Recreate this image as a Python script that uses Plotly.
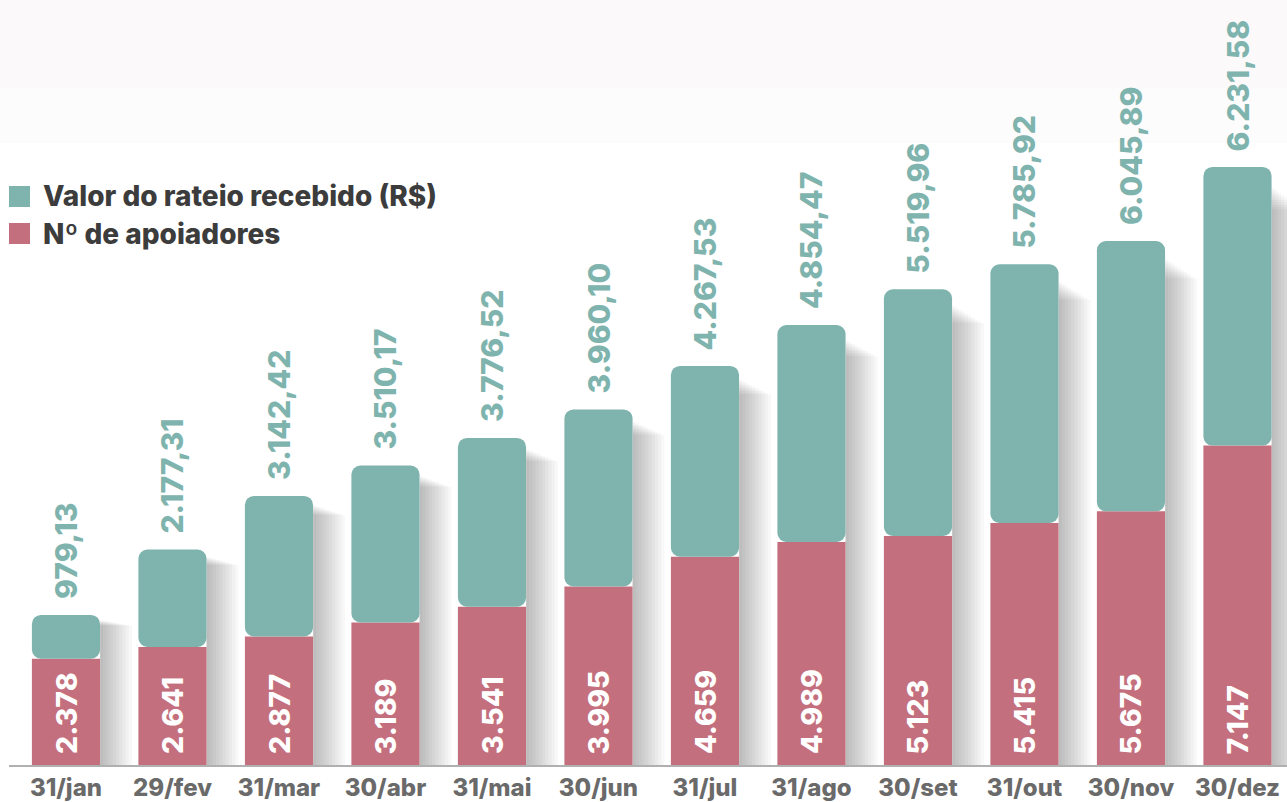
import plotly.graph_objects as go

categories = ["31/jan", "29/fev", "31/mar", "30/abr", "31/mai", "30/jun",
              "31/jul", "31/ago", "30/set", "31/out", "30/nov", "30/dez"]
apoiadores = [2378, 2641, 2877, 3189, 3541, 3995, 4659, 4989, 5123, 5415, 5675, 7147]
rateio = [979.13, 2177.31, 3142.42, 3510.17, 3776.52, 3960.10, 4267.53,
          4854.47, 5519.96, 5785.92, 6045.89, 6231.58]
apoiadores_labels = ["2.378", "2.641", "2.877", "3.189", "3.541", "3.995",
                     "4.659", "4.989", "5.123", "5.415", "5.675", "7.147"]
rateio_labels = ["979,13", "2.177,31", "3.142,42", "3.510,17", "3.776,52", "3.960,10",
                 "4.267,53", "4.854,47", "5.519,96", "5.785,92", "6.045,89", "6.231,58"]
legend_names = ["Valor do rateio recebido (R$)", "Nº de apoiadores"]

TEAL = "#7fb4ae"
PINK = "#c46f7d"
FONT = "Inter"
BAR_W = 0.64

totals = [a + r for a, r in zip(apoiadores, rateio)]

fig = go.Figure()

# soft drop shadow to the right of each bar (layered translucent strips)
strip_widths = [0.03, 0.06, 0.09, 0.12, 0.15, 0.18, 0.21, 0.24, 0.27, 0.30]
for i, w in enumerate(strip_widths):
    factor = 0.965 - 0.004 * i
    fig.add_trace(go.Bar(
        x=categories, y=[t * factor for t in totals], base=[0] * len(categories),
        width=w, offset=BAR_W / 2,
        marker=dict(color="rgba(0,0,0,0.026)", line=dict(width=0)),
        hoverinfo="skip", showlegend=False,
    ))

fig.add_trace(go.Bar(
    x=categories, y=apoiadores, base=[0] * len(categories), name=legend_names[1],
    width=BAR_W, marker=dict(color=PINK, line=dict(width=0), cornerradius=0),
    showlegend=False,
))
fig.add_trace(go.Bar(
    x=categories, y=rateio, base=apoiadores, name=legend_names[0],
    width=BAR_W, marker=dict(color=TEAL, line=dict(width=0), cornerradius=9),
    showlegend=False,
))

# value labels
for c, t, lab in zip(categories, totals, rateio_labels):
    fig.add_annotation(x=c, y=t, text=lab, textangle=-90, showarrow=False,
                       xanchor="center", yanchor="bottom", yshift=14,
                       font=dict(family=FONT, size=30, color=TEAL, weight=800))
for c, lab in zip(categories, apoiadores_labels):
    fig.add_annotation(x=c, y=0, text=lab, textangle=-90, showarrow=False,
                       xanchor="center", yanchor="bottom", yshift=9,
                       font=dict(family=FONT, size=28.5, color="white", weight=800))

# legend (drawn)
for k, (name, col) in enumerate(zip(legend_names, [TEAL, PINK])):
    y0 = 186 + k * 37
    fig.add_shape(type="rect", xref="paper", yref="paper",
                  x0=0, x1=21 / 1278, y0=1 - (y0 + 21) / 765, y1=1 - y0 / 765,
                  fillcolor=col, line=dict(width=0), layer="above")
    fig.add_annotation(xref="paper", yref="paper", x=32 / 1278, y=1 - (y0 + 10.5) / 765,
                       text=name, showarrow=False, xanchor="left", yanchor="middle",
                       font=dict(family=FONT, size=28, color="#3c3c3c", weight=800))

# faint top background band
for y_top, y_bot, col in [(-10, 88, "#fbf9fa"), (88, 143, "#fdfcfd")]:
    fig.add_shape(type="rect", xref="paper", yref="paper", x0=-1, x1=1.1,
                  y0=1 - y_bot / 765, y1=1 - y_top / 765,
                  fillcolor=col, line=dict(width=0), layer="below")

fig.update_layout(
    width=1287, height=802,
    margin=dict(l=9, r=0, t=0, b=37),
    barmode="overlay",
    paper_bgcolor="white", plot_bgcolor="rgba(0,0,0,0)",
    showlegend=False,
    font=dict(family=FONT),
)
fig.update_xaxes(
    type="category", range=[-0.535, 11.465],
    showline=True, linecolor="#b0b0b0", linewidth=2,
    ticks="", showgrid=False,
    tickfont=dict(family=FONT, size=24, color="#6a6a6a", weight=800),
)
fig.update_yaxes(range=[0, 17114], visible=False, showgrid=False, zeroline=False)

fig.write_html("out.html",
               config={"displayModeBar": False},
               post_script="document.body.style.margin='0';document.body.style.padding='0';")
